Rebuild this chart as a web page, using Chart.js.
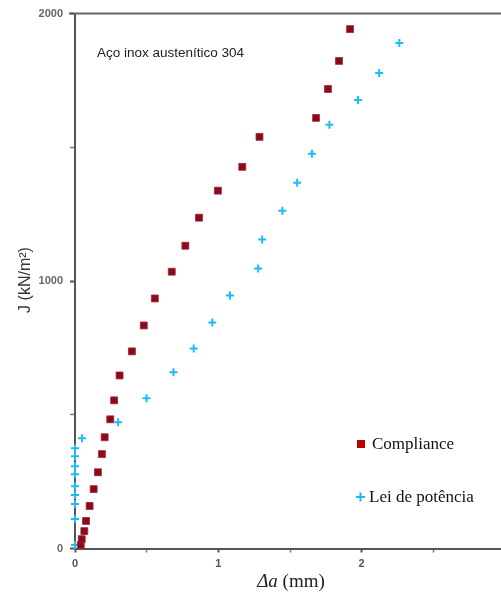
<!DOCTYPE html>
<html>
<head>
<meta charset="utf-8">
<script src="https://cdn.jsdelivr.net/npm/chart.js@4.4.1/dist/chart.umd.min.js"></script>
<style>
  html, body { margin: 0; padding: 0; background: #fff; overflow: hidden; }
  body { width: 501px; height: 592px; }
  #wrap { width: 511px; height: 592px; position: relative; }
</style>
</head>
<body>
<div id="wrap"><canvas id="c"></canvas></div>
<script>
// Crack growth Δa (mm) vs J-integral (kN/m²), stainless steel 304
const complianceDa = [0.04, 0.047, 0.065, 0.077, 0.102, 0.130, 0.160, 0.188, 0.207, 0.246, 0.273, 0.311,
  0.397, 0.480, 0.557, 0.675, 0.770, 0.865, 0.997, 1.167, 1.287, 1.682, 1.765, 1.842, 1.919];
const complianceJ = [13, 35, 65, 103, 159, 222, 285, 353, 416, 483, 554, 647,
  737, 834, 935, 1035, 1132, 1237, 1338, 1427, 1539, 1610, 1718, 1823, 1942];

const powerLawDa = [0, 0, 0, 0, 0, 0, 0, 0, 0, 0.049, 0.301, 0.499, 0.687, 0.828, 0.958,
  1.081, 1.278, 1.306, 1.447, 1.550, 1.653, 1.775, 1.974, 2.122, 2.263];
const powerLawJ = [13, 110, 166, 200, 233, 278, 308, 345, 375, 412, 472, 562, 659, 748, 845,
  946, 1047, 1155, 1263, 1368, 1476, 1584, 1677, 1778, 1890];

const seriesNames = ['Compliance', 'Lei de potência'];
const yMajorTicks = [0, 1000, 2000];
const xMajorTicks = [0, 1, 2, 3];
const noteText = 'Aço inox austenítico 304';

const toPoints = (xs, ys) => xs.map((v, i) => ({ x: v, y: ys[i] }));

const AXIS = '#555';

const decor = {
  id: 'decor',
  afterDraw(chart) {
    const { ctx, chartArea: a } = chart;
    ctx.save();
    // top frame line
    ctx.strokeStyle = '#666';
    ctx.lineWidth = 2;
    ctx.beginPath();
    ctx.moveTo(a.left - 6, a.top);
    ctx.lineTo(chart.width, a.top);
    ctx.stroke();

    // y axis title
    ctx.fillStyle = '#333';
    ctx.font = '16px "Liberation Sans", Arial, sans-serif';
    ctx.textAlign = 'center';
    ctx.textBaseline = 'middle';
    ctx.translate(26, 280);
    ctx.rotate(-Math.PI / 2);
    ctx.fillText('J (kN/m²)', 0, 0);
    ctx.setTransform(1, 0, 0, 1, 0, 0);

    // x axis title: italic Δa followed by unit
    ctx.fillStyle = '#222';
    ctx.textBaseline = 'alphabetic';
    ctx.textAlign = 'left';
    const f1 = 'italic 19px "Liberation Serif", "Times New Roman", serif';
    const f2 = '19px "Liberation Serif", "Times New Roman", serif';
    ctx.font = f1;
    const w1 = ctx.measureText('Δa').width;
    ctx.font = f2;
    const w2 = ctx.measureText(' (mm)').width;
    const x0 = 291 - (w1 + w2) / 2;
    ctx.font = f1;
    ctx.fillText('Δa', x0, 587);
    ctx.font = f2;
    ctx.fillText(' (mm)', x0 + w1, 587);

    // note in the upper left
    ctx.fillStyle = '#222';
    ctx.font = '13.5px "Liberation Sans", Arial, sans-serif';
    ctx.fillText(noteText, 97, 57);

    // legend
    const ds = chart.data.datasets;
    ctx.font = '17px "Liberation Serif", "Times New Roman", serif';
    ctx.fillStyle = '#c00000';
    ctx.fillRect(357, 440, 8, 8);
    ctx.fillStyle = '#111';
    ctx.textBaseline = 'middle';
    ctx.fillText(ds[0].label, 372, 445);

    ctx.strokeStyle = '#1cb8f0';
    ctx.lineWidth = 2;
    ctx.beginPath();
    ctx.moveTo(356, 497); ctx.lineTo(365, 497);
    ctx.moveTo(360.5, 492.5); ctx.lineTo(360.5, 501.5);
    ctx.stroke();
    ctx.fillStyle = '#111';
    ctx.fillText(ds[1].label, 369, 498);
    ctx.restore();
  }
};

new Chart(document.getElementById('c'), {
  type: 'scatter',
  data: {
    datasets: [
      {
        label: seriesNames[0],
        data: toPoints(complianceDa, complianceJ),
        pointStyle: 'rect',
        radius: 4.9,
        backgroundColor: '#8a0a1c',
        borderColor: '#9a2a36',
        borderWidth: 0.8,
        clip: false
      },
      {
        label: seriesNames[1],
        data: toPoints(powerLawDa, powerLawJ),
        pointStyle: 'cross',
        radius: 4,
        borderColor: '#1ebcf2',
        borderWidth: 2,
        clip: false
      }
    ]
  },
  options: {
    responsive: true,
    maintainAspectRatio: false,
    animation: false,
    layout: { padding: { top: 13, right: 0, left: 0, bottom: 0 } },
    plugins: { legend: { display: false }, tooltip: { enabled: false } },
    scales: {
      x: {
        type: 'linear',
        min: 0,
        max: 3,
        afterFit: s => { s.height = 43.5; s.paddingRight = 0; },
        border: { color: AXIS, width: 2 },
        grid: {
          drawOnChartArea: false,
          tickLength: 4,
          tickColor: c => (xMajorTicks.includes(c.tick.value) ? '#555' : '#777'),
          tickWidth: c => (xMajorTicks.includes(c.tick.value) ? 2 : 1.5)
        },
        ticks: {
          stepSize: 0.5,
          padding: 5,
          maxRotation: 0,
          color: '#555',
          font: { family: '"Liberation Sans", Arial, sans-serif', size: 11, weight: 'bold' },
          callback: v => (xMajorTicks.includes(v) ? String(v) : '')
        }
      },
      y: {
        type: 'linear',
        min: 0,
        max: 2000,
        afterFit: s => { s.width = 75; },
        border: { color: AXIS, width: 2 },
        grid: {
          drawOnChartArea: false,
          tickLength: 5,
          tickColor: c => (yMajorTicks.includes(c.tick.value) ? '#555' : '#777'),
          tickWidth: c => (yMajorTicks.includes(c.tick.value) ? 2 : 1.5)
        },
        ticks: {
          stepSize: 500,
          padding: 7,
          color: '#666',
          font: { family: '"Liberation Sans", Arial, sans-serif', size: 11, weight: 'bold' },
          callback: v => (yMajorTicks.includes(v) ? String(v) : '')
        }
      }
    }
  },
  plugins: [decor]
});
</script>
</body>
</html>
